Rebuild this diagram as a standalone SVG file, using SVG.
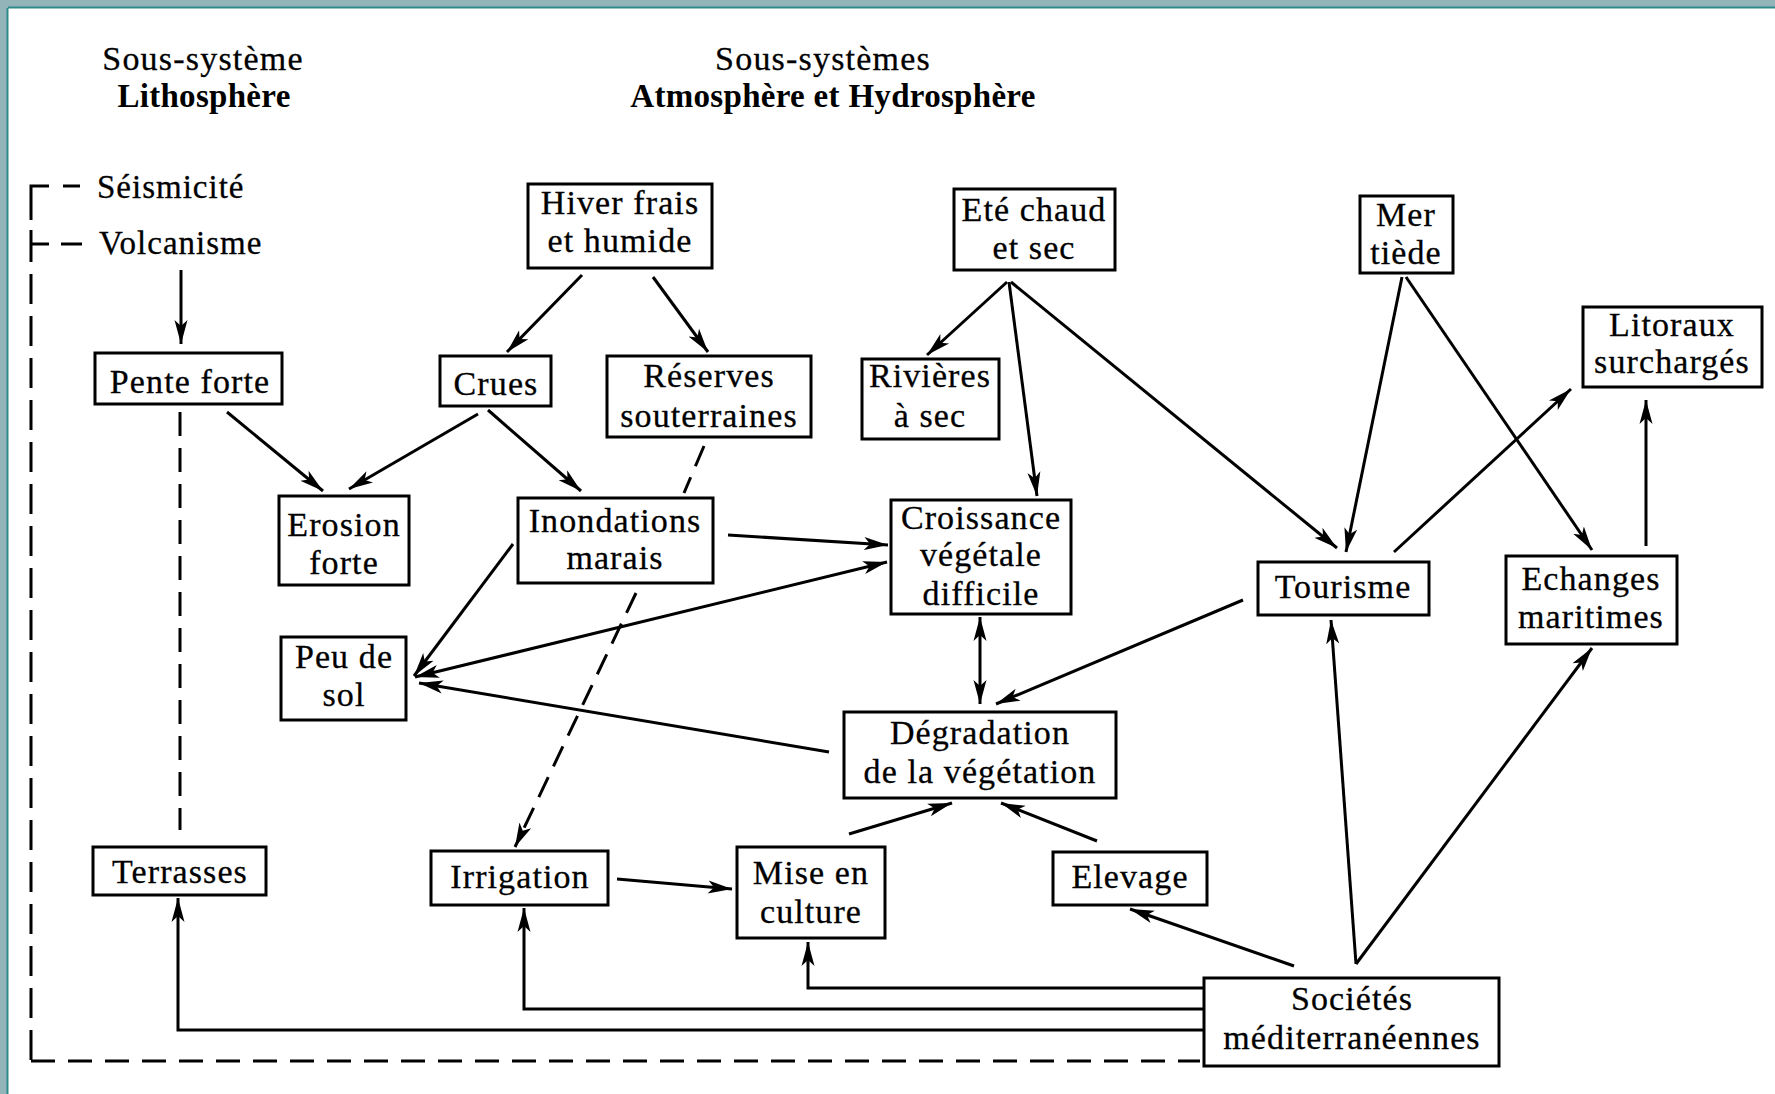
<svg xmlns="http://www.w3.org/2000/svg" width="1775" height="1094" viewBox="0 0 1775 1094">
<style>
.bg{fill:#93b4b9}
.node rect{fill:#fff;stroke:#000;stroke-width:3}
.node text{font-family:"Liberation Serif","Times New Roman",serif;font-size:34px;letter-spacing:1.1px;fill:#000;stroke:#000;stroke-width:0.3px;text-anchor:middle}
.ttl{font-family:"Liberation Serif","Times New Roman",serif;font-size:34px;letter-spacing:1.2px;fill:#000;stroke:#000;stroke-width:0.3px;text-anchor:middle}
.ttl.b{font-weight:bold;font-size:33px;letter-spacing:0.3px;stroke-width:0}
.leg{font-family:"Liberation Serif","Times New Roman",serif;font-size:33px;letter-spacing:1px;fill:#000;stroke:#000;stroke-width:0.3px}
.c line,.c path,.c polyline{fill:none;stroke:#000;stroke-width:3}
.c .d{stroke-dasharray:24 12}
.c .a{marker-end:url(#ah)}
.c .aa{marker-end:url(#ah);marker-start:url(#ah)}
</style>
<defs>
<marker id="ah" markerUnits="userSpaceOnUse" markerWidth="26" markerHeight="16" refX="24" refY="8" orient="auto-start-reverse">
<path d="M0,1.5 L24,8 L0,14.5 L6,8 z" fill="#000"/>
</marker>
</defs>
<rect class="bg" x="0" y="0" width="1775" height="1094"/>
<rect x="8" y="8" width="1767" height="1086" fill="#fff"/>
<line x1="8" y1="7.5" x2="1775" y2="7.5" stroke="#2f8a8c" stroke-width="2"/>
<line x1="7.5" y1="8" x2="7.5" y2="1094" stroke="#2f8a8c" stroke-width="2"/>

<g id="titles">
<text class="ttl" x="203" y="70">Sous-système</text>
<text class="ttl b" x="204" y="107">Lithosphère</text>
<text class="ttl" x="823" y="70">Sous-systèmes</text>
<text class="ttl b" x="833" y="107">Atmosphère et Hydrosphère</text>
</g>
<g id="legend">
<text class="leg" x="97" y="198">Séismicité</text>
<text class="leg" x="99" y="254">Volcanisme</text>
</g>

<g id="connectors" class="c">
<!-- legend bracket -->
<polyline points="49,186 31,186 31,220"/>
<line x1="63" y1="186" x2="80" y2="186"/>
<line x1="31" y1="230" x2="31" y2="262"/>
<line x1="31" y1="244" x2="49" y2="244"/>
<line x1="61" y1="244" x2="82" y2="244"/>
<line class="d" x1="31" y1="274" x2="31" y2="1061" style="stroke-dasharray:30 12"/>
<line class="d" x1="31" y1="1061" x2="1200" y2="1061" style="stroke-dasharray:24 13"/>
<!-- volcanisme -> pente -->
<line class="a" x1="181" y1="270" x2="181" y2="344"/>
<!-- pente dashed -> terrasses -->
<line class="d" x1="180" y1="412" x2="180" y2="830"/>
<!-- pente -> erosion -->
<line class="a" x1="227" y1="412" x2="323" y2="491"/>
<!-- crues -> erosion -->
<line class="a" x1="478" y1="414" x2="349" y2="489"/>
<!-- crues -> inondations -->
<line class="a" x1="488" y1="410" x2="581" y2="491"/>
<!-- hiver -> crues -->
<line class="a" x1="582" y1="275" x2="507" y2="352"/>
<!-- hiver -> reserves -->
<line class="a" x1="653" y1="277" x2="708" y2="352"/>
<!-- reserves dashed -> irrigation -->
<line class="d" x1="704" y1="446" x2="684" y2="493" style="stroke-dasharray:22 12"/>
<line class="d a" x1="636" y1="593" x2="515" y2="847" style="stroke-dasharray:22 12"/>
<!-- inondations -> croissance -->
<line class="a" x1="728" y1="535" x2="888" y2="545"/>
<!-- inondations -> peu de sol -->
<line class="a" x1="513" y1="544" x2="414" y2="676"/>
<!-- peu de sol <-> croissance -->
<line class="aa" x1="415" y1="677" x2="887" y2="562"/>
<!-- degradation -> peu de sol -->
<line class="a" x1="829" y1="752" x2="419" y2="683"/>
<!-- croissance <-> degradation -->
<line class="aa" x1="980" y1="617" x2="980" y2="704"/>
<!-- tourisme -> degradation -->
<line class="a" x1="1243" y1="600" x2="996" y2="704"/>
<!-- mise -> degradation -->
<line class="a" x1="849" y1="834" x2="952" y2="803"/>
<!-- elevage -> degradation -->
<line class="a" x1="1097" y1="841" x2="1001" y2="803"/>
<!-- irrigation -> mise -->
<line class="a" x1="617" y1="879" x2="732" y2="889"/>
<!-- societes -> elevage -->
<line class="a" x1="1294" y1="966" x2="1130" y2="909"/>
<!-- societes -> mise -->
<polyline class="a" points="1204,988 808,988 808,942"/>
<!-- societes -> irrigation -->
<polyline class="a" points="1204,1009 524,1009 524,908"/>
<!-- societes -> terrasses -->
<polyline class="a" points="1204,1030 178,1030 178,898"/>
<!-- societes -> tourisme -->
<line class="a" x1="1356" y1="964" x2="1331" y2="620"/>
<!-- societes -> echanges -->
<line class="a" x1="1356" y1="964" x2="1592" y2="648"/>
<!-- ete -> rivieres -->
<line class="a" x1="1007" y1="282" x2="927" y2="355"/>
<!-- ete -> croissance -->
<line class="a" x1="1009" y1="282" x2="1037" y2="496"/>
<!-- ete -> tourisme -->
<line class="a" x1="1011" y1="282" x2="1337" y2="548"/>
<!-- mer -> tourisme -->
<line class="a" x1="1402" y1="277" x2="1346" y2="552"/>
<!-- mer -> echanges -->
<line class="a" x1="1406" y1="277" x2="1592" y2="550"/>
<!-- tourisme -> litoraux -->
<line class="a" x1="1394" y1="552" x2="1571" y2="389"/>
<!-- echanges -> litoraux -->
<line class="a" x1="1646" y1="546" x2="1646" y2="400"/>
</g>

<g id="n-hiver" class="node"><rect x="528" y="184" width="184" height="84"/><text x="620" y="214">Hiver frais</text><text x="620" y="252">et humide</text></g>
<g id="n-ete" class="node"><rect x="954" y="189" width="161" height="81"/><text x="1034" y="221">Eté chaud</text><text x="1034" y="259">et sec</text></g>
<g id="n-mer" class="node"><rect x="1360" y="196" width="93" height="77"/><text x="1406" y="226">Mer</text><text x="1406" y="264">tiède</text></g>
<g id="n-litoraux" class="node"><rect x="1583" y="307" width="179" height="80"/><text x="1672" y="336">Litoraux</text><text x="1672" y="373">surchargés</text></g>
<g id="n-pente" class="node"><rect x="95" y="353" width="187" height="51"/><text x="190" y="393">Pente forte</text></g>
<g id="n-crues" class="node"><rect x="440" y="356" width="111" height="50"/><text x="496" y="395">Crues</text></g>
<g id="n-reserves" class="node"><rect x="607" y="356" width="204" height="81"/><text x="709" y="387">Réserves</text><text x="709" y="427">souterraines</text></g>
<g id="n-rivieres" class="node"><rect x="862" y="359" width="137" height="80"/><text x="930" y="387">Rivières</text><text x="930" y="427">à sec</text></g>
<g id="n-erosion" class="node"><rect x="279" y="496" width="130" height="89"/><text x="344" y="536">Erosion</text><text x="344" y="574">forte</text></g>
<g id="n-inondations" class="node"><rect x="518" y="498" width="195" height="85"/><text x="615" y="532">Inondations</text><text x="615" y="569">marais</text></g>
<g id="n-croissance" class="node"><rect x="891" y="500" width="180" height="114"/><text x="981" y="529">Croissance</text><text x="981" y="566">végétale</text><text x="981" y="605">difficile</text></g>
<g id="n-tourisme" class="node"><rect x="1258" y="562" width="171" height="53"/><text x="1343" y="598">Tourisme</text></g>
<g id="n-echanges" class="node"><rect x="1506" y="556" width="171" height="88"/><text x="1591" y="590">Echanges</text><text x="1591" y="628">maritimes</text></g>
<g id="n-peu" class="node"><rect x="281" y="637" width="125" height="83"/><text x="344" y="668">Peu de</text><text x="344" y="706">sol</text></g>
<g id="n-degradation" class="node"><rect x="844" y="712" width="272" height="86"/><text x="980" y="744">Dégradation</text><text x="980" y="783">de la végétation</text></g>
<g id="n-terrasses" class="node"><rect x="93" y="847" width="173" height="48"/><text x="180" y="883">Terrasses</text></g>
<g id="n-irrigation" class="node"><rect x="431" y="851" width="177" height="54"/><text x="520" y="888">Irrigation</text></g>
<g id="n-mise" class="node"><rect x="737" y="847" width="148" height="91"/><text x="811" y="884">Mise en</text><text x="811" y="923">culture</text></g>
<g id="n-elevage" class="node"><rect x="1053" y="852" width="154" height="53"/><text x="1130" y="888">Elevage</text></g>
<g id="n-societes" class="node"><rect x="1204" y="978" width="295" height="88"/><text x="1352" y="1010">Sociétés</text><text x="1352" y="1049">méditerranéennes</text></g>
</svg>
